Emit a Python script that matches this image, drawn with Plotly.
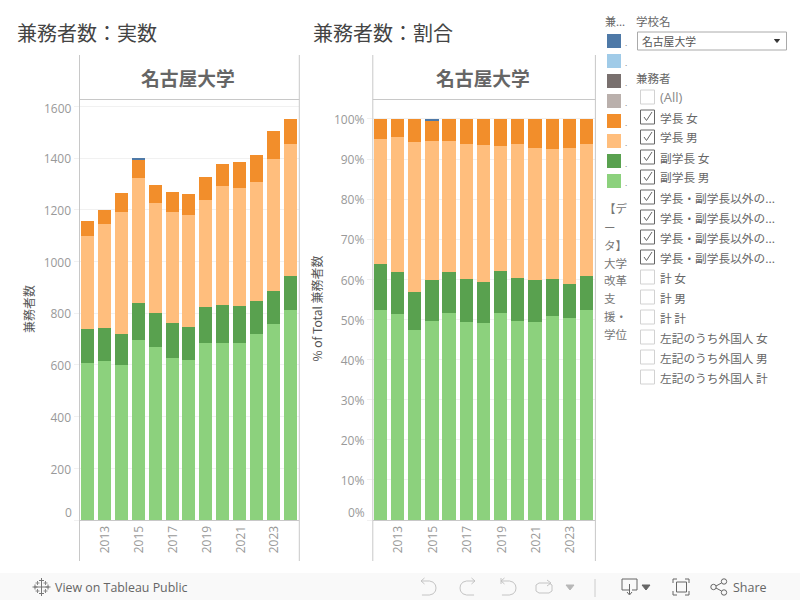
import plotly.graph_objects as go

years = [2012, 2013, 2014, 2015, 2016, 2017, 2018, 2019, 2020, 2021, 2022, 2023, 2024]
light_green = [607, 615, 600, 696, 669, 627, 619, 685, 685, 685, 720, 758, 812]
dark_green = [132, 128, 120, 143, 132, 135, 128, 139, 147, 143, 127, 128, 132]
light_orange = [360, 402, 471, 484, 425, 429, 433, 414, 460, 456, 461, 511, 511]
orange = [58, 54, 74, 74, 70, 78, 81, 89, 85, 101, 104, 108, 96]
blue = [0, 0, 0, 3, 0, 0, 0, 0, 0, 0, 0, 0, 0]

series = [
    ("学長・副学長以外の 男", light_green, "#8CD17D"),
    ("学長・副学長以外の 女", dark_green, "#59A14F"),
    ("副学長 男", light_orange, "#FFBE7D"),
    ("副学長 女", orange, "#F28E2B"),
    ("学長 女", blue, "#4E79A7"),
]
legend_colors = ["#4E79A7", "#A0CBE8", "#79706E", "#BAB0AC", "#F28E2B", "#FFBE7D", "#59A14F", "#8CD17D"]
filter_items = [
    ("(All)", False), ("学長 女", True), ("学長 男", True), ("副学長 女", True), ("副学長 男", True),
    ("学長・副学長以外の...", True), ("学長・副学長以外の...", True), ("学長・副学長以外の...", True),
    ("学長・副学長以外の...", True), ("計 女", False), ("計 男", False), ("計 計", False),
    ("左記のうち外国人 女", False), ("左記のうち外国人 男", False), ("左記のうち外国人 計", False),
]
wrapped_title = ["【デ", "ー", "タ】", "大学", "改革", "支", "援・", "学位"]
count_ticks = [0, 200, 400, 600, 800, 1000, 1200, 1400, 1600]
pct_ticks = [0, 10, 20, 30, 40, 50, 60, 70, 80, 90, 100]
year_ticks = [2013, 2015, 2017, 2019, 2021, 2023]

totals = [sum(s[1][i] for s in series) for i in range(len(years))]

W, H = 800, 600
CJK = "Noto Sans CJK JP"
NUM = "Open Sans"
BORDER = "#c8c8c8"
GRID = "#f1f1f1"


def px(x):
    return x / W


def py(y):
    return 1 - y / H


fig = go.Figure()
for name, vals, color in series:
    fig.add_bar(x=years, y=vals, name=name, marker=dict(color=color, line_width=0), width=0.77,
                xaxis="x", yaxis="y", showlegend=False)
for name, vals, color in series:
    pct = [100 * v / t for v, t in zip(vals, totals)]
    fig.add_bar(x=years, y=pct, name=name, marker=dict(color=color, line_width=0), width=0.77,
                xaxis="x2", yaxis="y2", showlegend=False)

shapes = []
annotations = []


def text(x, y, s, size=11, color="#666666", anchor="left", font=CJK, angle=0, bold=False):
    if bold:
        s = "<b>" + s + "</b>"
    annotations.append(dict(x=px(x), y=py(y), xref="paper", yref="paper", text=s, showarrow=False,
                            xanchor=anchor, yanchor="middle", textangle=angle,
                            font=dict(family=font, size=size, color=color), borderpad=0, borderwidth=0))


def line(x0, y0, x1, y1, color=BORDER, width=1):
    shapes.append(dict(type="line", xref="paper", yref="paper", x0=px(x0), y0=py(y0), x1=px(x1), y1=py(y1),
                       line=dict(color=color, width=width)))


def rect(x0, y0, x1, y1, fill=None, color=None, width=1, layer="above"):
    shapes.append(dict(type="rect", xref="paper", yref="paper", x0=px(x0), y0=py(y0), x1=px(x1), y1=py(y1),
                       fillcolor=fill or "rgba(0,0,0,0)", layer=layer,
                       line=dict(color=color or "rgba(0,0,0,0)", width=width if color else 0)))


def poly(points, color="#888888", width=1, fill=None, close=False):
    d = "M" + " L".join(f"{px(a):.5f},{py(b):.5f}" for a, b in points) + (" Z" if close else "")
    shapes.append(dict(type="path", xref="paper", yref="paper", path=d, fillcolor=fill or "rgba(0,0,0,0)",
                       line=dict(color=color, width=width)))


def curve_icon(x0, y0, x1, y1, color, mirror=False):
    # U-turn arrow used by the undo/redo toolbar buttons
    pts = [(0, 0), (9, 0), (13, 1.2), (15.4, 4), (16, 7), (15.4, 10), (13, 12.8), (9, 14), (1, 14)]
    w = x1 - x0
    h = y1 - y0
    out = []
    for a, b in pts:
        a = a / 16 * w
        out.append((x1 - a if mirror else x0 + a, y0 + b / 14 * h))
    poly(out, color)
    tip = x1 if mirror else x0
    d = -1 if mirror else 1
    poly([(tip + 3.5 * d, y0 - 3), (tip, y0), (tip + 3.5 * d, y0 + 3)], color)


# Titles
text(16.5, 32, "兼務者数：実数", 20, "#444444")
text(312.5, 32, "兼務者数：割合", 20, "#444444")

# Chart frames
for left, right, centre in [(79.5, 299.3, 188), (372.8, 595.4, 483)]:
    line(left, 55, left, 561)
    line(right, 55, right, 561)
    line(left, 99.5, right, 99.5)
    text(centre, 77.5, "名古屋大学", 18.8, "#666666", "center", bold=True)

# Axis titles
text(28.5, 308.5, "兼務者数", 12, "#555555", "center", angle=-90)
text(316, 308.5, "% of Total 兼務者数", 12, "#555555", "center", angle=-90)

# Offset end labels, as the original nudges them inside the pane
text(71.5, 512, "0", 12, "#999999", "right", NUM)
text(365, 512, "0%", 12, "#999999", "right", NUM)
text(71.5, 108.5, "1600", 12, "#999999", "right", NUM)
text(365, 120, "100%", 12, "#999999", "right", NUM)

# Colour legend
text(604.5, 21, "兼...", 11, "#666666")
for i, c in enumerate(legend_colors):
    rect(607, 34 + 20 * i, 621, 48 + 20 * i, fill=c)
    text(625, 43 + 20 * i, ".", 8, "#888888")
for i, s in enumerate(wrapped_title):
    text(604, 208 + [0, 19, 37, 55, 72, 90, 108, 126][i], s, 11.5, "#777777")

# Filters
text(636, 21, "学校名", 11.5, "#666666")
rect(637.5, 32, 786.5, 50, fill="#ffffff", color="#aaaaaa")
text(642, 41, "名古屋大学", 10.8, "#555555")
poly([(774.5, 39.5), (779.5, 39.5), (777, 42.5)], "#333333", 1, "#333333", True)
text(636, 78, "兼務者", 11.5, "#666666")
for i, (label, on) in enumerate(filter_items):
    yc = 97 + 20 * i
    rect(640.5, yc - 7, 654.5, yc + 7, fill="#ffffff", color="#666666" if on else "#d2d2d2")
    if on:
        poly([(644, yc), (646.5, yc + 3.5), (652, yc - 5)], "#666666", 1)
    if label == "(All)":
        text(660, yc, label, 13, "#888888", font=NUM)
    else:
        text(660, yc, label, 11.7, "#666666")

# Toolbar
rect(0, 573, 800, 600, fill="#f9f9f9", layer="below")
text(55, 587, "View on Tableau Public", 12.4, "#666666", font="Open Sans")
text(733, 587, "Share", 12.5, "#666666", font="Open Sans")
for a, b, r in [(41.5, 587, 7.5), (35, 587, 2.5), (48, 587, 2.5), (41.5, 580.5, 2.5), (41.5, 593.5, 2.5)]:
    line(a - r, b, a + r, b, "#777777")
    line(a, b - r, a, b + r, "#777777")
for a, b in [(37.5, 583), (45.5, 583), (37.5, 591), (45.5, 591)]:
    line(a - 2, b, a + 2, b, "#888888")
    line(a, b - 2, a, b + 2, "#888888")
G = "#c4c4c4"
curve_icon(421, 581, 436, 595, G)
curve_icon(460, 581, 475, 595, G, mirror=True)
curve_icon(501, 581, 516, 595, G)
line(501, 578, 501, 584, G)
poly([(539, 583), (549, 583), (552, 585), (552, 591), (549, 593), (539, 593), (536, 591), (536, 585), (539, 583)], G)
poly([(547, 580), (551, 583), (547, 586)], G)
poly([(566, 585), (574, 585), (570, 590)], "#b8b8b8", 1, "#b8b8b8", True)
line(595, 579, 595, 597, "#cccccc")
D = "#666666"
poly([(629, 590), (622, 590), (622, 579), (637, 579), (637, 590), (632, 590)], D)
line(629.5, 584, 629.5, 594, D)
poly([(627, 592), (629.5, 595), (632, 592)], D)
poly([(642, 585), (650, 585), (646, 590)], D, 1, D, True)
rect(676.5, 582, 686.5, 592, color=D)
for (a, b, c, d, e, f) in [(673, 583, 673, 579, 677, 579), (685, 579, 689, 579, 689, 583),
                           (689, 591, 689, 595, 685, 595), (677, 595, 673, 595, 673, 591)]:
    poly([(a, b), (c, d), (e, f)], D)
for a, b in [(713.5, 587), (724, 581.5), (724, 592.5)]:
    shapes.append(dict(type="circle", xref="paper", yref="paper", x0=px(a - 2.7), x1=px(a + 2.7),
                       y0=py(b - 2.7), y1=py(b + 2.7), line=dict(color=D, width=1)))
line(716, 586, 721.5, 583, D)
line(716, 588, 721.5, 591, D)

yax_common = dict(showline=False, zeroline=False, gridcolor=GRID, gridwidth=1, ticks="outside", ticklen=5,
                  tickcolor=GRID, tickfont=dict(family=NUM, size=12, color="#999999"), tickmode="array",
                  ticklabelshift=1)
xax_common = dict(showline=True, linecolor=BORDER, linewidth=1, showgrid=False, zeroline=False, ticks="",
                  tickmode="array", tickvals=year_ticks, ticktext=[str(y) for y in year_ticks], tickangle=-90,
                  tickfont=dict(family=NUM, size=12, color="#999999"), ticklabelshift=1)

fig.update_layout(
    width=W, height=H, autosize=False, margin=dict(l=0, r=0, t=0, b=0), barmode="stack",
    paper_bgcolor="#ffffff", plot_bgcolor="#ffffff", showlegend=False,
    xaxis={**xax_common, "domain": [px(79.5), px(299.3)], "range": [2012 - 0.47, 2024 + 0.52], "anchor": "y"},
    yaxis={**yax_common, "domain": [py(520), py(99.5)], "range": [0, 1627], "anchor": "x",
           "tickvals": count_ticks, "ticktext": ["" if t in (0, 1600) else str(t) for t in count_ticks]},
    xaxis2={**xax_common, "domain": [px(372.8), px(595.4)], "range": [2012 - 0.44, 2024 + 0.51], "anchor": "y2"},
    yaxis2={**yax_common, "domain": [py(520), py(99.5)], "range": [0, 104.86], "anchor": "x2",
            "tickvals": pct_ticks, "ticktext": ["" if t in (0, 100) else f"{t}%" for t in pct_ticks]},
    shapes=shapes, annotations=annotations,
)
fig.write_html("out.html", config={"displayModeBar": False},
               post_script="document.body.style.margin='0';document.documentElement.style.overflow='hidden';")
